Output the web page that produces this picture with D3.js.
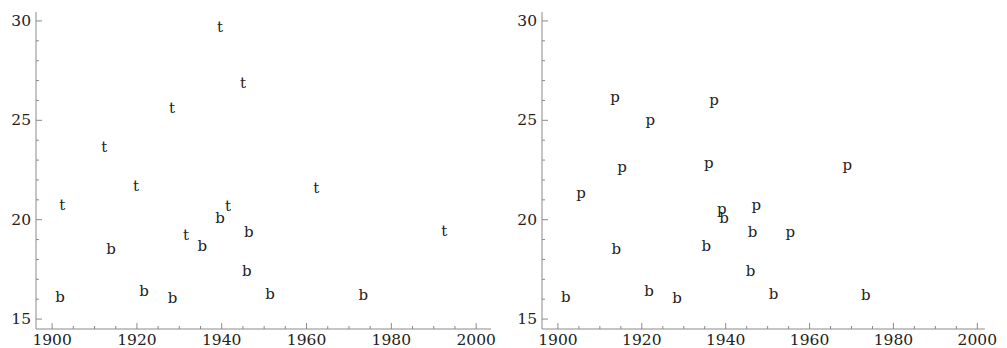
<!DOCTYPE html>
<html>
<head>
<meta charset="utf-8">
<script src="https://cdn.jsdelivr.net/npm/d3@7"></script>
<style>
  body { margin: 0; background: #fff; }
  svg { display: block; }
  text { font-family: "DejaVu Serif", "Liberation Serif", serif; fill: #222; }
</style>
</head>
<body>
<div id="chart"></div>
<script>
// values: year, value
var tYears  = [1939.6, 1945.0, 1928.3, 1912.3, 1919.8, 1902.4, 1941.5, 1931.6, 1962.3, 1992.5];
var tValues = [29.7, 26.87, 25.6, 23.64, 21.7, 20.76, 20.7, 19.24, 21.57, 19.44];

var bYears  = [1901.9, 1913.9, 1921.7, 1928.4, 1935.4, 1939.6, 1946.4, 1945.9, 1951.4, 1973.4];
var bValues = [16.11, 18.54, 16.41, 16.06, 18.69, 20.1, 19.39, 17.42, 16.26, 16.21];

var pYears  = [1905.5, 1913.6, 1922.0, 1915.3, 1937.2, 1936.0, 1969.0, 1939.1, 1947.3, 1955.4];
var pValues = [21.36, 26.16, 25.0, 22.63, 26.0, 22.83, 22.73, 20.56, 20.76, 19.39];

var xTicks = [1900, 1920, 1940, 1960, 1980, 2000];
var yTicks = [15, 20, 25, 30];

function pts(years, values, ch) {
  return years.map(function (d, i) { return { x: d, y: values[i], ch: ch }; });
}

var width = 1007, height = 348;
var svg = d3.select("#chart").append("svg")
  .attr("width", width)
  .attr("height", height);

function panel(left, right, xEnd, data) {
  var x = d3.scaleLinear().domain([1896.2, 2003.5]).range([left, right]);
  var y = d3.scaleLinear().domain([14.5, 30.45]).range([329, 12]);
  var g = svg.append("g");

  // axis lines
  g.append("line")
    .attr("x1", x(1896.2)).attr("x2", x(xEnd))
    .attr("y1", y(14.5)).attr("y2", y(14.5))
    .attr("stroke", "#8a8a8a").attr("stroke-width", 1);
  g.append("line")
    .attr("x1", x(1896.2)).attr("x2", x(1896.2))
    .attr("y1", y(14.5)).attr("y2", y(30.45))
    .attr("stroke", "#8a8a8a").attr("stroke-width", 1);

  // y ticks, drawn inward
  var yMinor = d3.range(15, 31, 1);
  g.selectAll(".ym").data(yMinor).enter().append("line")
    .attr("x1", x(1896.2)).attr("x2", function (d) { return x(1896.2) + (d % 5 === 0 ? 6 : 3); })
    .attr("y1", function (d) { return y(d); }).attr("y2", function (d) { return y(d); })
    .attr("stroke", "#8a8a8a").attr("stroke-width", 1);
  g.selectAll(".yl").data(yTicks).enter().append("text")
    .attr("x", x(1896.2) - 5)
    .attr("y", function (d) { return y(d) + 5; })
    .attr("text-anchor", "end")
    .attr("font-size", 15.5)
    .text(function (d) { return d; });

  // x ticks, drawn inward
  var xMinor = d3.range(1900, 2001, 5);
  g.selectAll(".xm").data(xMinor).enter().append("line")
    .attr("x1", function (d) { return x(d); }).attr("x2", function (d) { return x(d); })
    .attr("y1", y(14.5)).attr("y2", function (d) { return y(14.5) - (d % 20 === 0 ? 6 : 3); })
    .attr("stroke", "#8a8a8a").attr("stroke-width", 1);
  g.selectAll(".xl").data(xTicks).enter().append("text")
    .attr("x", function (d) { return x(d); })
    .attr("y", 345)
    .attr("text-anchor", "middle")
    .attr("font-size", 15.5)
    .text(function (d) { return d; });

  // letter markers
  g.selectAll(".pt").data(data).enter().append("text")
    .attr("x", function (d) { return x(d.x); })
    .attr("y", function (d) { return y(d.y); })
    .attr("text-anchor", "middle")
    .attr("dominant-baseline", "central")
    .attr("font-size", 15)
    .text(function (d) { return d.ch; });
}

panel(36, 491, 2003.5, pts(tYears, tValues, "t").concat(pts(bYears, bValues, "b")));
panel(542, 992, 2001.8, pts(pYears, pValues, "p").concat(pts(bYears, bValues, "b")));
</script>
</body>
</html>
